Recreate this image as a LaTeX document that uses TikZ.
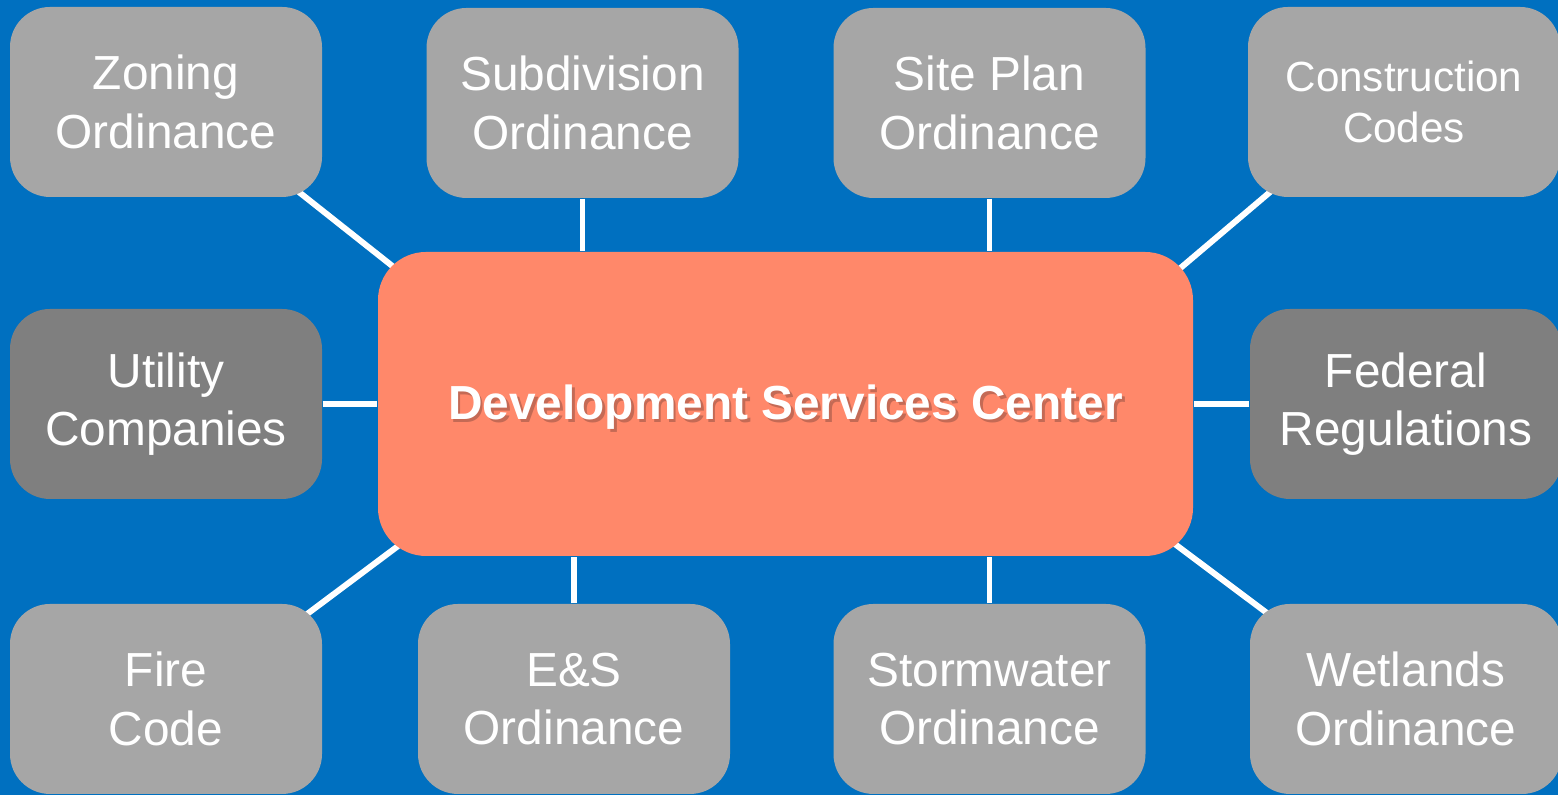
\documentclass[tikz,border=0pt]{standalone}
\usepackage{fontspec}
\setmainfont{Liberation Sans}
\usetikzlibrary{positioning,backgrounds}

\definecolor{bgblue}{HTML}{0070C0}
\definecolor{boxgray}{HTML}{A6A6A6}
\definecolor{darkgray}{HTML}{7F7F7F}
\definecolor{salmon}{HTML}{FF886A}
\definecolor{dscshadow}{HTML}{C46A55}

\newcommand{\shadowtext}[1]{\leavevmode\rlap{\kern0.8pt\raisebox{-0.8pt}{\textcolor{dscshadow}{#1}}}#1}

\tikzset{
  ordbox/.style={rectangle,rounded corners=0.4cm,fill=boxgray,text=white,
    minimum width=3.12cm,minimum height=1.90cm,inner sep=0pt,align=center,
    font=\fontsize{13.6}{16.6}\selectfont},
  agencybox/.style={ordbox,fill=darkgray},
  centerbox/.style={rectangle,rounded corners=0.48cm,fill=salmon,text=white,
    minimum width=8.15cm,minimum height=3.04cm,inner sep=0pt,
    text height=0.5cm,text depth=0.18cm,
    font=\fontsize{13.6}{16.2}\selectfont\bfseries},
  link/.style={draw=white,line width=1.7pt}
}

\begin{document}
\begin{tikzpicture}
\useasboundingbox (0,0) rectangle (15.58,7.95);
\clip (0,0) rectangle (15.58,7.95);

\node[centerbox] (dsc) at (7.855,3.91) {\shadowtext{Development Services Center}};

\node[ordbox] (zoning) at (1.66,6.93) {Zoning\\Ordinance};
\node[ordbox] (subdiv) at (5.825,6.92) {Subdivision\\Ordinance};
\node[ordbox] (siteplan) at (9.895,6.92) {Site Plan\\Ordinance};
\node[ordbox,font=\fontsize{12}{14.5}\selectfont] (codes) at (14.04,6.93) {Construction\\Codes};
\node[agencybox] (utility) at (1.66,3.91) {Utility\\Companies};
\node[agencybox] (federal) at (14.06,3.91) {Federal\\Regulations};
\node[ordbox] (fire) at (1.66,0.96) {Fire\\Code};
\node[ordbox] (esord) at (5.74,0.96) {E\&S\\Ordinance};
\node[ordbox] (storm) at (9.895,0.96) {Stormwater\\Ordinance};
\node[ordbox] (wetlands) at (14.06,0.96) {Wetlands\\Ordinance};

% connectors, behind the boxes
\begin{scope}[on background layer]
\fill[bgblue] (0,0) rectangle (15.58,7.95);
\draw[link] ([shift={(-0.52,0.28)}]zoning.south east) -- ([shift={(0.52,-0.44)}]dsc.north west);
\draw[link] (subdiv.south) -- (subdiv.south |- dsc.north);
\draw[link] (siteplan.south) -- (siteplan.south |- dsc.north);
\draw[link] ([shift={(0.48,0.27)}]codes.south west) -- ([shift={(-0.56,-0.53)}]dsc.north east);
\draw[link] (utility.east) -- (dsc.west);
\draw[link] (federal.west) -- (dsc.east);
\draw[link] ([shift={(-0.42,-0.305)}]fire.north east) -- ([shift={(0.62,0.415)}]dsc.south west);
\draw[link] (esord.north) -- (esord.north |- dsc.south);
\draw[link] (storm.north) -- (storm.north |- dsc.south);
\draw[link] ([shift={(-0.58,0.42)}]dsc.south east) -- ([shift={(0.50,-0.34)}]wetlands.north west);
\end{scope}

\end{tikzpicture}
\end{document}
